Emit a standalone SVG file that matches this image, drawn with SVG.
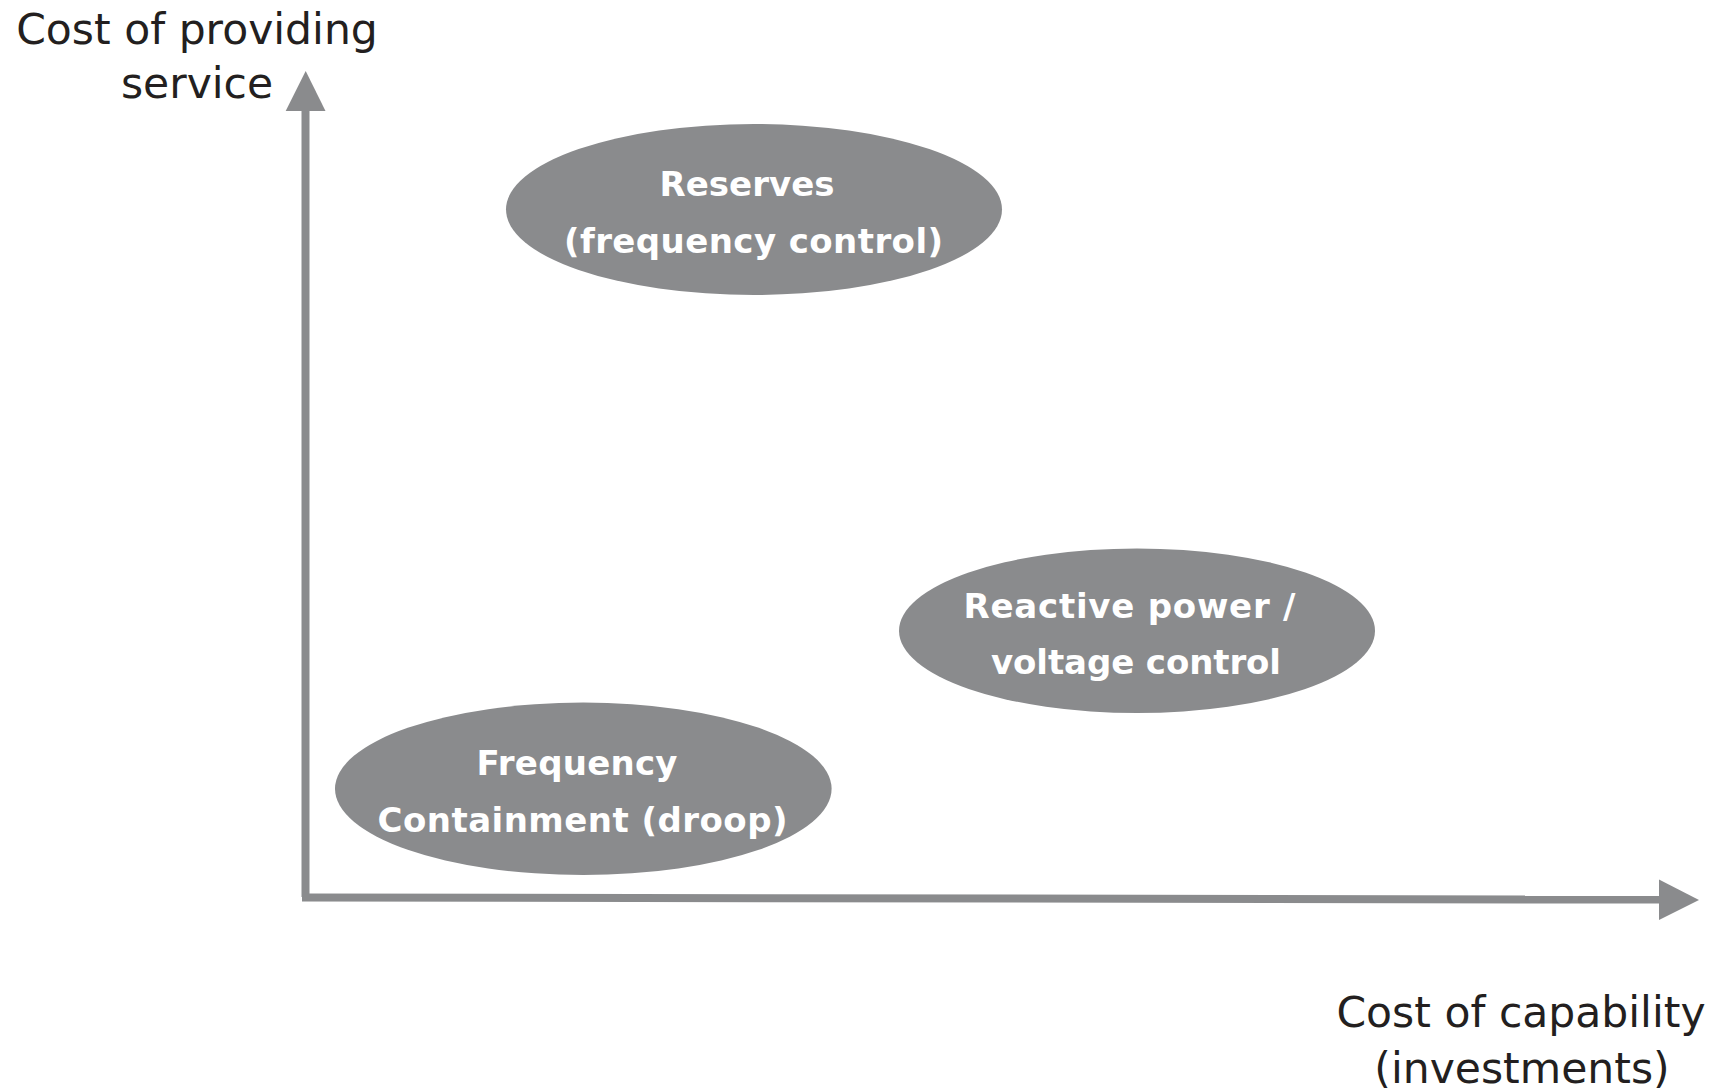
<svg xmlns="http://www.w3.org/2000/svg" width="1720" height="1090" viewBox="0 0 1720 1090">
  <style>
    .axis-label { font-family: "DejaVu Sans", Verdana, sans-serif; font-size: 42.5px; fill: #231f20; text-anchor: middle; }
    .node-shape { fill: #8a8b8d; }
    .node-label { font-family: "DejaVu Sans", Verdana, sans-serif; font-weight: bold; font-size: 34px; fill: #ffffff; text-anchor: middle; }
    .axis-line { stroke: #8a8b8d; stroke-width: 8; fill: none; }
    .axis-head { fill: #8a8b8d; }
  </style>
  <rect width="1720" height="1090" fill="#ffffff"/>

  <!-- axes -->
  <g id="connectors">
    <line class="axis-line" x1="305.5" y1="897" x2="305.5" y2="108"/>
    <polygon class="axis-head" points="305.7,71 285.7,111 325.5,111"/>
    <line class="axis-line" x1="302" y1="897.5" x2="1662" y2="899.6"/>
    <polygon class="axis-head" points="1659,879.5 1699,900 1659,920"/>
  </g>

  <!-- axis titles -->
  <g id="y-axis-title">
    <text class="axis-label" x="197" y="43.5">Cost of providing</text>
    <text class="axis-label" x="197" y="97.5">service</text>
  </g>
  <g id="x-axis-title">
    <text class="axis-label" x="1521" y="1026.5">Cost of capability</text>
    <text class="axis-label" x="1522" y="1083">(investments)</text>
  </g>

  <!-- services -->
  <g id="reserves">
    <ellipse class="node-shape" cx="754" cy="209.5" rx="248" ry="85.5"/>
    <text class="node-label" x="747" y="196" textLength="175">Reserves</text>
    <text class="node-label" x="753.5" y="252.5" textLength="379">(frequency control)</text>
  </g>
  <g id="reactive-power">
    <ellipse class="node-shape" cx="1137" cy="630.7" rx="238" ry="82.3"/>
    <text class="node-label" x="1129.5" y="618" textLength="332">Reactive power /</text>
    <text class="node-label" x="1136" y="673.5" textLength="290">voltage control</text>
  </g>
  <g id="frequency-containment">
    <ellipse class="node-shape" cx="583.3" cy="788.8" rx="248.3" ry="86.2"/>
    <text class="node-label" x="577" y="775" textLength="201">Frequency</text>
    <text class="node-label" x="582.5" y="831.5" textLength="410">Containment (droop)</text>
  </g>
</svg>
